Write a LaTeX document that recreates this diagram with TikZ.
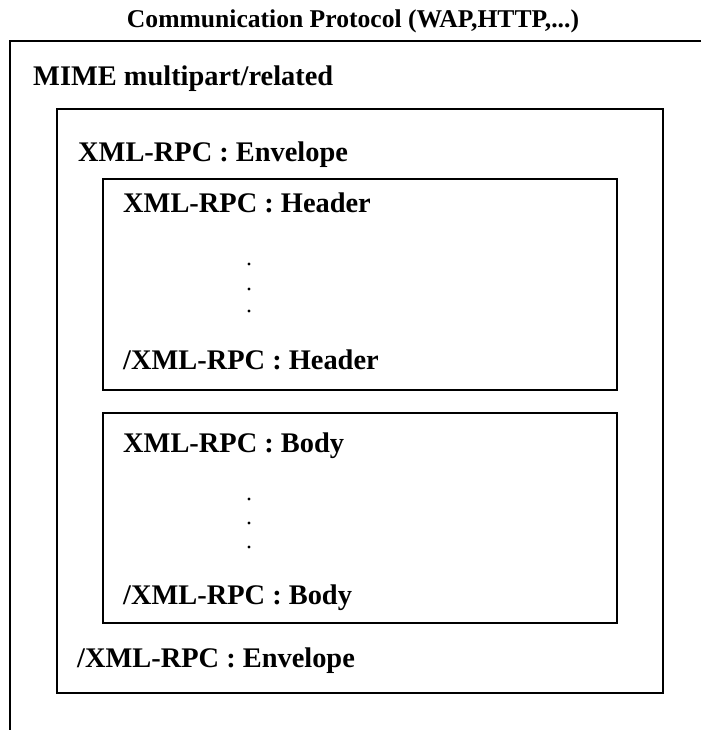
\documentclass[tikz,border=0pt]{standalone}
\usepackage{fontspec}
\setmainfont{Liberation Serif}
\tikzset{
  frame/.style={line width=1.6pt},
  label/.style={anchor=base west,inner sep=0pt,font=\bfseries\fontsize{28.4}{30}\selectfont},
}
\begin{document}
\begin{tikzpicture}[x=1pt,y=-1pt]
  \useasboundingbox (0,0) rectangle (701,730);
  % protocol frame, open at right and bottom
  \node[anchor=base,inner sep=0pt,font=\bfseries\fontsize{25.6}{27}\selectfont] (proto) at (353,28) {Communication Protocol (WAP,HTTP,...)};
  \draw[frame] (701,41) -- (10,41) -- (10,730);
  \node[label] (mime) at (33,86) {MIME multipart/related};
  % envelope
  \draw[frame] (57,109) rectangle (663,693);
  \node[label] (envopen) at (78,162) {XML-RPC : Envelope};
  \node[label] (envclose) at (77,667) {/XML-RPC : Envelope};
  % header
  \draw[frame] (103,179) rectangle (617,390);
  \node[label] (hdropen) at (123,212) {XML-RPC : Header};
  \node[label] (hdrclose) at (123,369) {/XML-RPC : Header};
  % body
  \draw[frame] (103,413) rectangle (617,623);
  \node[label] (bodyopen) at (123,452) {XML-RPC : Body};
  \node[label] (bodyclose) at (123,604) {/XML-RPC : Body};
  \foreach \y in {264,289,311,499,523,547}
    \fill (249,\y) circle (1.7pt);
\end{tikzpicture}
\end{document}
